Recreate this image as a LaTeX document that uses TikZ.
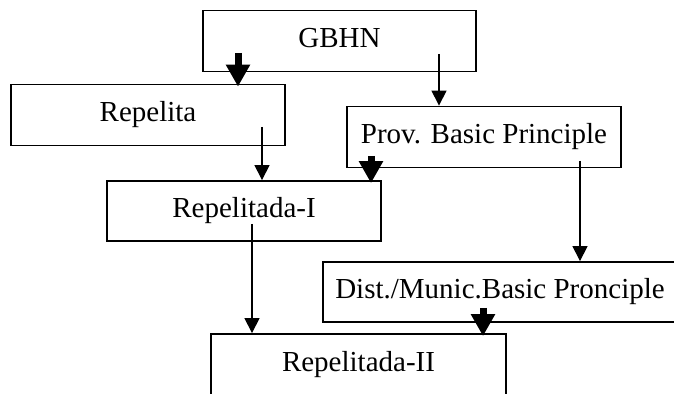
\documentclass[tikz,border=0pt]{standalone}
\usepackage{fontspec}
\setmainfont{Liberation Serif}
\usetikzlibrary{arrows.meta, positioning, calc}

\begin{document}
\begin{tikzpicture}[
    x=0.5pt, y=-0.5pt,
    every node/.style={font=\fontsize{14.5}{17}\selectfont},
    box/.style={draw, line width=0.9pt, inner sep=0pt, minimum height=30.5pt,
        text height=10pt, text depth=3.5pt},
    arrow/.style={-{Triangle[length=7.5pt, width=7.5pt]}, line width=0.6pt},
    fatarrow/.style={-{Triangle[length=11pt, width=11.5pt]}, line width=3.5pt,
        shorten >=-1.5pt}
]

\useasboundingbox (0,0) rectangle (674,394);
\clip (0,0) rectangle (674,394);

% === NODES ===

\node[box, minimum width=136.5pt] (gbhn) at (339.5,41) {GBHN};
\node[box, minimum width=137pt] (repelita) at (148,115) {Repelita};
\node[box, minimum width=137pt] (prov) at (484,137) {Prov. Basic Principle};
\node[box, minimum width=137pt, minimum height=30pt] (repI) at (244,211) {Repelitada-I};
\node[box, minimum width=177pt, minimum height=30pt] (dist) at (500,292) {Dist./Munic.Basic Pronciple};
\node[box, minimum width=147.5pt, minimum height=31pt] (repII) at (358.5,365) {Repelitada-II};

% start points inside the boxes
\coordinate (gbhnL) at (238,53);
\coordinate (gbhnR) at (439,54);
\coordinate (repelitaS) at (262,127);
\coordinate (provL) at (371,156);
\coordinate (provR) at (580,161);
\coordinate (repIS) at (252,224);
\coordinate (distS) at (483,308);

% === CONNECTORS ===

% GBHN -> Repelita
\draw[fatarrow] (gbhnL) -- (gbhnL |- repelita.north);

% GBHN -> Prov
\draw[arrow] (gbhnR) -- (gbhnR |- prov.north);

% Repelita -> Repelitada-I
\draw[arrow] (repelitaS) -- (repelitaS |- repI.north);

% Prov -> Repelitada-I
\draw[fatarrow] (provL) -- (provL |- repI.north);

% Prov -> Dist./Munic.
\draw[arrow] (provR) -- (provR |- dist.north);

% Repelitada-I -> Repelitada-II
\draw[arrow] (repIS) -- (repIS |- repII.north);

% Dist./Munic. -> Repelitada-II
\draw[fatarrow] (distS) -- (distS |- repII.north);

\end{tikzpicture}
\end{document}
